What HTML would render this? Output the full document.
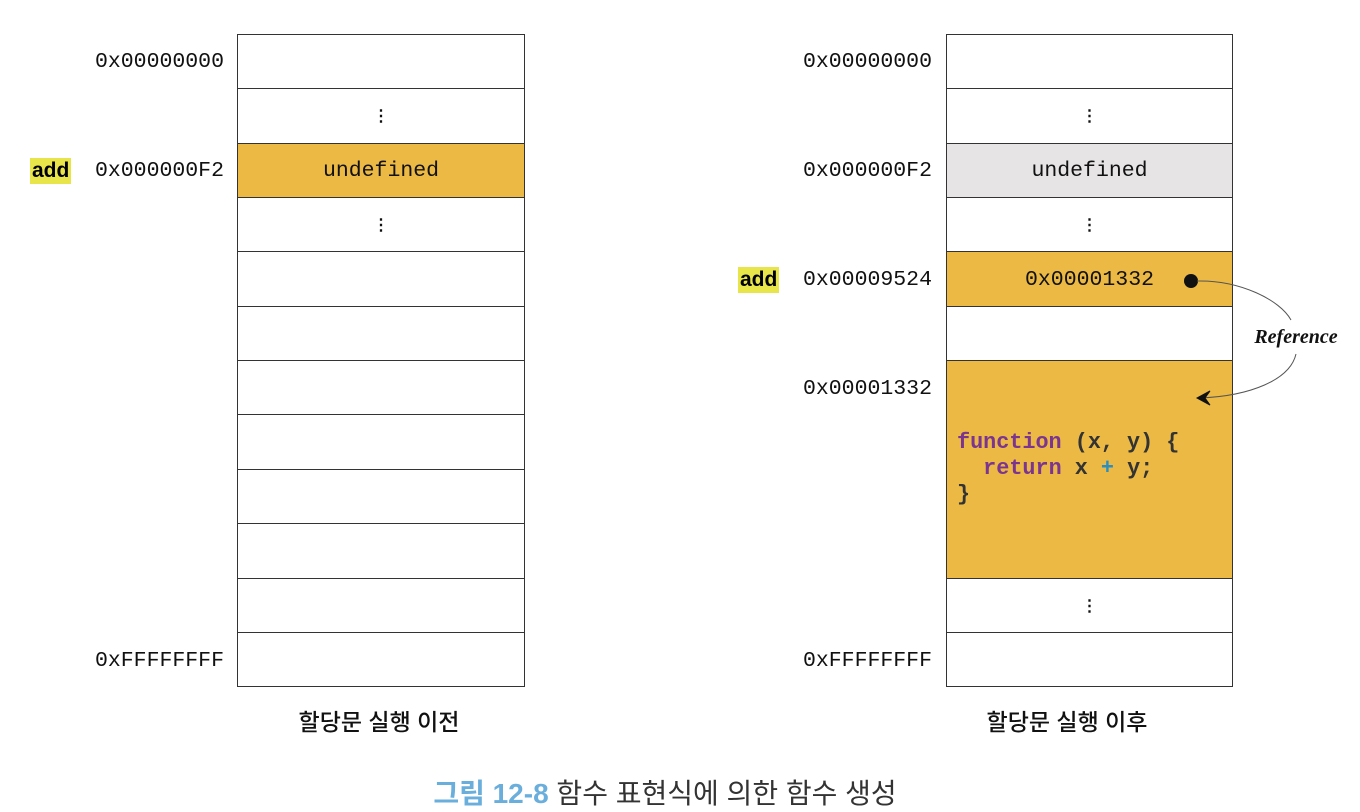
<!DOCTYPE html><html><head><meta charset="utf-8"><style>
body{margin:0;width:1360px;height:811px;background:#fff;position:relative;overflow:hidden;font-family:"Liberation Mono",monospace}
.c{position:absolute;box-sizing:border-box;border:1.5px solid #333;background:#fff;display:flex;align-items:center;justify-content:center;font-size:21.5px;color:#111}
.y{background:#EBB944}.g{background:#E6E4E4}
.a{position:absolute;font-size:21.5px;color:#111;text-align:right;width:200px}
.h{position:absolute;background:#E8E54A;font-family:"Liberation Sans",sans-serif;font-weight:bold;font-size:21px;padding:0 2px;line-height:26px}
.t{position:absolute;font-family:"Liberation Sans","Noto Sans CJK KR",sans-serif;font-size:23px;font-weight:500;color:#111;text-align:center;width:300px}
.d{font-weight:bold;font-size:16px}
</style></head><body>
<div class="c" style="left:237px;top:34px;width:288px;height:56px"></div>
<div class="c d" style="left:237px;top:88px;width:288px;height:56px">⋮</div>
<div class="c y" style="left:237px;top:143px;width:288px;height:56px">undefined</div>
<div class="c d" style="left:237px;top:197px;width:288px;height:56px">⋮</div>
<div class="c" style="left:237px;top:251px;width:288px;height:57px"></div>
<div class="c" style="left:237px;top:306px;width:288px;height:56px"></div>
<div class="c" style="left:237px;top:360px;width:288px;height:56px"></div>
<div class="c" style="left:237px;top:414px;width:288px;height:57px"></div>
<div class="c" style="left:237px;top:469px;width:288px;height:56px"></div>
<div class="c" style="left:237px;top:523px;width:288px;height:57px"></div>
<div class="c" style="left:237px;top:578px;width:288px;height:56px"></div>
<div class="c" style="left:237px;top:632px;width:288px;height:55px"></div>
<div class="a" style="left:24px;top:50px">0x00000000</div>
<div class="a" style="left:24px;top:159px">0x000000F2</div>
<div class="a" style="left:24px;top:649px">0xFFFFFFFF</div>
<div class="h" style="left:30px;top:158px">add</div>
<div class="t" style="left:229px;top:703px">할당문 실행 이전</div>
<div class="c" style="left:946px;top:34px;width:287px;height:56px"></div>
<div class="c d" style="left:946px;top:88px;width:287px;height:56px">⋮</div>
<div class="c g" style="left:946px;top:143px;width:287px;height:56px">undefined</div>
<div class="c d" style="left:946px;top:197px;width:287px;height:56px">⋮</div>
<div class="c y" style="left:946px;top:251px;width:287px;height:57px">0x00001332</div>
<div class="c" style="left:946px;top:306px;width:287px;height:56px"></div>
<div class="c y" style="left:946px;top:360px;width:287px;height:220px"></div>
<div class="c d" style="left:946px;top:578px;width:287px;height:56px">⋮</div>
<div class="c" style="left:946px;top:632px;width:287px;height:55px"></div>
<div class="a" style="left:732px;top:50px">0x00000000</div>
<div class="a" style="left:732px;top:159px">0x000000F2</div>
<div class="a" style="left:732px;top:268px">0x00009524</div>
<div class="a" style="left:732px;top:377px">0x00001332</div>
<div class="a" style="left:732px;top:649px">0xFFFFFFFF</div>
<div class="h" style="left:738px;top:267px">add</div>
<pre style="position:absolute;left:957px;top:430px;margin:0;font-family:'Liberation Mono',monospace;font-weight:bold;font-size:21.8px;line-height:26px;color:#333"><span style="color:#7B3590">function</span> (x, y) {
  <span style="color:#7B3590">return</span> x <span style="color:#2A8FC0">+</span> y;
}</pre>
<svg style="position:absolute;left:0;top:0" width="1360" height="811">
<circle cx="1191" cy="281" r="7" fill="#111"/>
<path d="M1197 281 C1240 280 1280 300 1291 320" fill="none" stroke="#555" stroke-width="1"/>
<path d="M1296 354 C1290 380 1250 396 1200 398" fill="none" stroke="#555" stroke-width="1"/>
<path d="M1210 391 L1197 398 L1210 405 L1205 398 Z" fill="#111" stroke="#111" stroke-width="1"/>
<text x="1296" y="343" text-anchor="middle" font-family="Liberation Serif,serif" font-style="italic" font-weight="bold" font-size="20" fill="#111">Reference</text>
</svg>
<div class="t" style="left:917px;top:703px">할당문 실행 이후</div>
<div style="position:absolute;left:0;width:1330px;top:772px;text-align:center;font-family:'Liberation Sans','Noto Sans CJK KR',sans-serif;font-size:28px;color:#333"><span style="color:#6AAEDC;font-weight:bold">그림 12-8</span> 함수 표현식에 의한 함수 생성</div>
</body></html>
